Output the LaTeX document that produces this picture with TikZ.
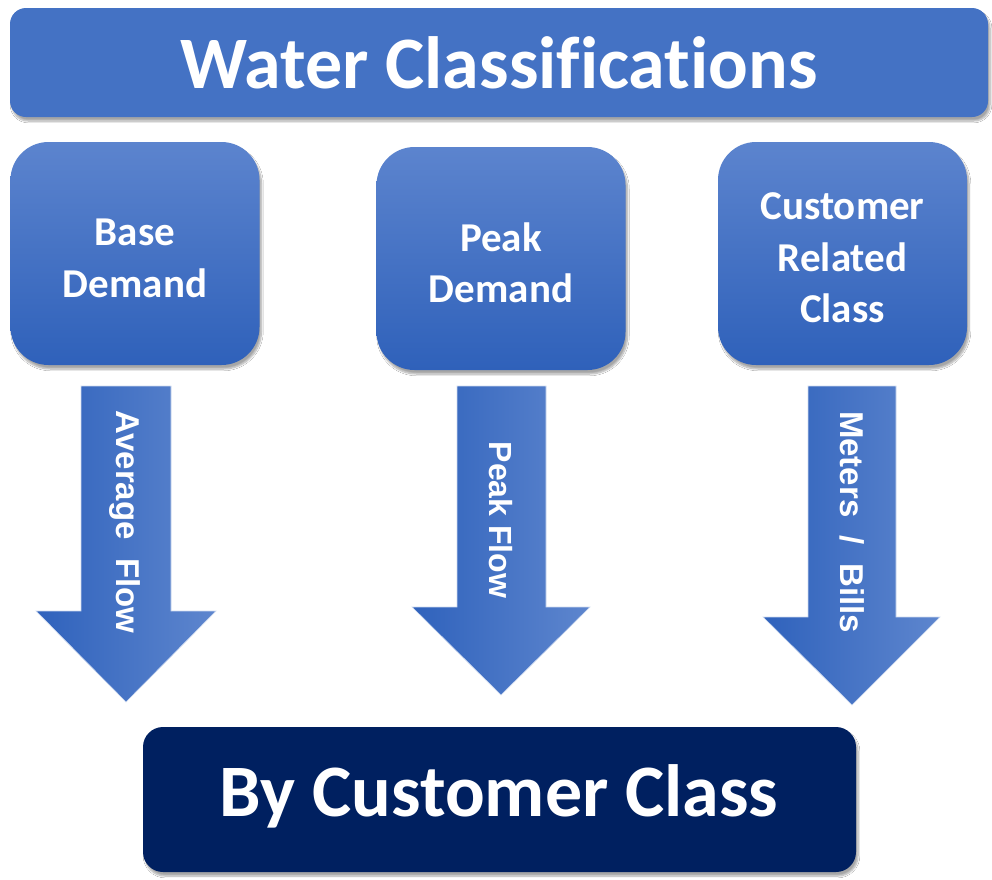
\documentclass[tikz,border=0pt]{standalone}
\usepackage{fontspec}
\newfontfamily\carl{Carlito}[BoldFont=* Bold, Ligatures=NoCommon]
\newfontfamily\arl{Liberation Sans}
\usetikzlibrary{shadows.blur}
\definecolor{hdr}{HTML}{4472C4}
\definecolor{boxtop}{HTML}{5C84CE}
\definecolor{boxbot}{HTML}{2F61BA}
\definecolor{arrl}{HTML}{2F62BC}
\definecolor{arrr}{HTML}{5E86CE}
\definecolor{navy}{HTML}{002060}
\tikzset{
  shad/.style={blur shadow={shadow xshift=2pt, shadow yshift=-4pt, shadow blur steps=8, shadow opacity=35}},
  titlebox/.style={shad, fill=hdr, rounded corners=16pt, inner sep=0pt, text=white,
    font=\carl\bfseries\fontsize{74}{80}\selectfont},
  catbox/.style={shad, top color=boxtop, bottom color=boxbot, draw=none, rounded corners=38pt,
    inner sep=0pt, minimum width=249pt, minimum height=223pt, text=white, align=center,
    font=\carl\bfseries\fontsize{41}{51.5}\selectfont},
  resbox/.style={shad, fill=navy, rounded corners=20pt, inner sep=0pt, text=white,
    font=\carl\bfseries\fontsize{74}{80}\selectfont},
  arrowshape/.style={left color=arrl, right color=arrr, draw=white!70!arrr, line width=0.6pt},
  arrowlabel/.style={rotate=-90, text=white, font=\arl\bfseries\fontsize{33}{36}\selectfont, inner sep=0pt}
}
\begin{document}
\begin{tikzpicture}[x=1pt,y=-1pt]
\useasboundingbox (0,0) rectangle (992,879);
\fill[white] (0,0) rectangle (992,879);

% title
\node[titlebox, minimum width=978pt, minimum height=109pt] (title) at (499,62.5) {Water Classifications};

% category boxes
\node[catbox] (base) at (135,253.5) {};
\node[text=white, align=center, font=\carl\bfseries\fontsize{41}{51.5}\selectfont] (basetxt) at (135,258.5) {Base\\Demand};
\node[catbox] (peak) at (501,258.5) {};
\node[text=white, align=center, font=\carl\bfseries\fontsize{41}{51.5}\selectfont] (peaktxt) at (501,263) {Peak\\Demand};
\node[catbox] (cust) at (842.5,253.5) {};
\node[text=white, align=center, font=\carl\bfseries\fontsize{41}{51.5}\selectfont] (custtxt) at (842.5,258) {Customer\\Related\\Class};

% arrows
\shade[arrowshape] (81,386) -- (171,386) -- (171,611) -- (216,611) -- (126,702) -- (36,611) -- (81,611) -- cycle;
\node[arrowlabel] (avg) at (125,522) {Average\ \ Flow};

\shade[arrowshape] (457,386) -- (546,386) -- (546,607) -- (590,607) -- (501,695) -- (412,607) -- (457,607) -- cycle;
\node[arrowlabel, font=\arl\bfseries\fontsize{32}{36}\selectfont] (pf) at (501,520) {Peak Flow};

\shade[arrowshape] (808,386) -- (896,386) -- (896,617) -- (940,617) -- (852,705) -- (763,617) -- (808,617) -- cycle;
\node[arrowlabel] (mb) at (852,522) {Meters\ \ /\ \ Bills};

% result
\node[resbox, minimum width=713pt, minimum height=145pt] (res) at (499.5,799.5) {};
\node[text=white, font=\carl\bfseries\fontsize{74}{80}\selectfont] (restxt) at (499,796) {By Customer Class};
\end{tikzpicture}
\end{document}
